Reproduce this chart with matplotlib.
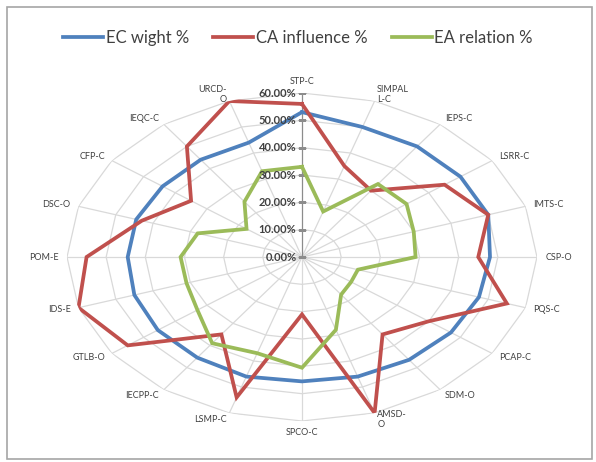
import numpy as np
import matplotlib
matplotlib.use("Agg")
import matplotlib.pyplot as plt
from matplotlib.patches import Rectangle

plt.rcParams['font.family'] = ['Lato', 'DejaVu Sans']

categories = ["STP-C", "SIMPAL\nL-C", "IEPS-C", "LSRR-C", "IMTS-C", "CSP-O",
              "PQS-C", "PCAP-C", "SDM-O", "AMSD-\nO", "SPCO-C", "LSMP-C",
              "IECPP-C", "GTLB-O", "IDS-E", "POM-E", "DSC-O", "CFP-C",
              "IEQC-C", "URCD-\nO"]
ec_weight = [53, 50, 50, 50, 50, 48, 47.5, 47, 46.5, 46, 45.5, 46, 45.5,
             45.5, 45, 44.5, 44.5, 44, 44, 44]
ca_influence = [56, 35, 30, 45, 50, 45, 55, 40, 35, 60, 21, 54, 35, 55, 60,
                55, 43, 35, 50, 60]
ea_relation = [33, 17.5, 33, 33, 30, 29, 15, 15.5, 17, 28, 40.5, 37, 39, 33,
               31, 31, 28, 17.5, 25, 33]
series_names = ["EC wight %", "CA influence %", "EA relation %"]
series_colors = ["#4F81BD", "#C0504D", "#9BBB59"]
r_ticks = [0, 10, 20, 30, 40, 50, 60]
r_tick_labels = ["0.00%", "10.00%", "20.00%", "30.00%", "40.00%", "50.00%", "60.00%"]

fig = plt.figure(figsize=(5.96, 4.62), dpi=100)
fig.patches.append(Rectangle((7 / 596, 3 / 462), 585 / 596, 452 / 462,
                             transform=fig.transFigure, fill=False,
                             edgecolor="#A6A6A6", lw=1.2))

ax = fig.add_axes([0.1124, 0.0887, 0.7886, 0.71], projection="polar")
ax.set_aspect("auto")
ax.set_theta_zero_location("N")
ax.set_theta_direction(-1)
ax.grid(False)
ax.set_xticks([])
ax.set_yticks([])
ax.spines["polar"].set_visible(False)
ax.patch.set_visible(False)

n = len(categories)
angles = np.linspace(0, 2 * np.pi, n, endpoint=False)
closed = np.append(angles, angles[0])

# gridlines (polygon rings + spokes)
for r in r_ticks[1:]:
    ax.plot(closed, [r] * (n + 1), color="#D9D9D9", lw=0.9, zorder=1)
for a in angles[1:]:
    ax.plot([a, a], [0, r_ticks[-1]], color="#D9D9D9", lw=0.9, zorder=1)
ax.plot([0, 0], [0, r_ticks[-1]], color="#8C8C8C", lw=0.9, zorder=1)
ax.plot([0] * len(r_ticks), r_ticks, ls="none", marker="_", ms=6,
        color="#8C8C8C", mew=0.9, zorder=1)

for vals, name, col in zip([ec_weight, ca_influence, ea_relation],
                           series_names, series_colors):
    ax.plot(closed, list(vals) + [vals[0]], color=col, lw=2.7, label=name,
            zorder=3, solid_joinstyle="miter")

ax.set_ylim(0, r_ticks[-1])

# radial tick labels
for r, lab in zip(r_ticks, r_tick_labels):
    ax.annotate(lab, xy=(0, r), xytext=(-4, 0), textcoords="offset points",
                ha="right", va="center", fontsize=8, fontweight="bold",
                color="#404040", zorder=4)

# category labels
for a, lab in zip(angles, categories):
    dx, dy = np.sin(a), np.cos(a)
    if dx > 0.1:
        ha = "left"
    elif dx < -0.1:
        ha = "right"
    else:
        ha = "center"
    if abs(dx) <= 0.1:
        va = "bottom" if dy > 0 else "top"
    else:
        va = "center"
    ax.annotate(lab, xy=(a, r_ticks[-1]), xytext=(dx * 6, dy * 5),
                textcoords="offset points", ha=ha, va=va, fontsize=6.5,
                color="#404040", linespacing=1.1)

fig.legend(loc="center", bbox_to_anchor=(0.5, 1 - 38 / 462), ncol=3,
           frameon=False, fontsize=12, handlelength=2.4,
           handletextpad=0.15, columnspacing=1.45, labelcolor="#404040")

fig.savefig("out.png", dpi=100)
